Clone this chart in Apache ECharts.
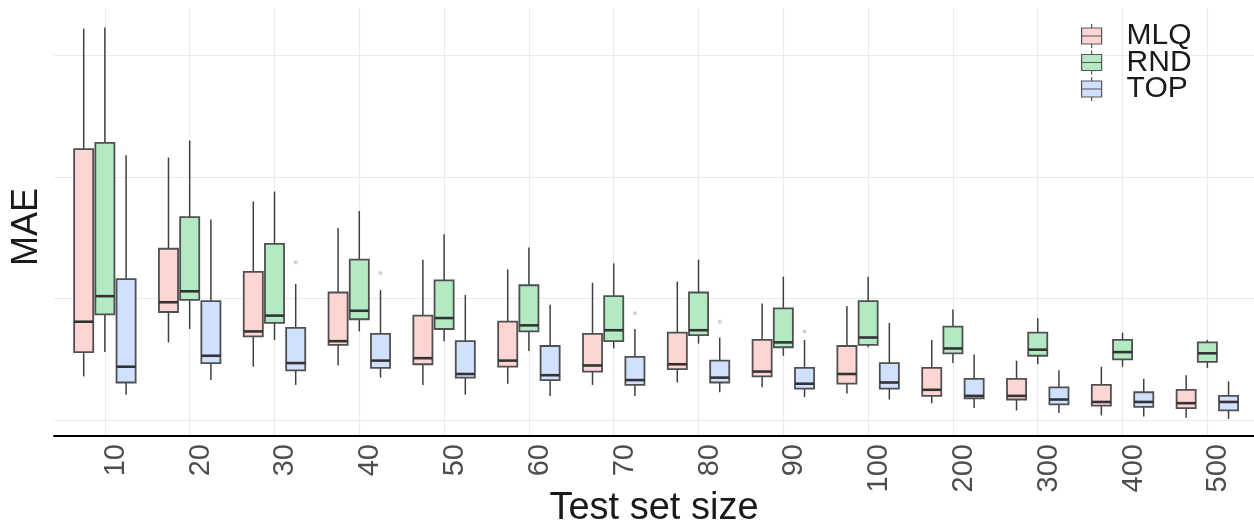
<!DOCTYPE html>
<html>
<head>
<meta charset="utf-8">
<script src="https://cdn.jsdelivr.net/npm/echarts@6/dist/echarts.min.js"></script>
<style>
html,body{margin:0;padding:0;background:#ffffff;}
#chart{width:1254px;height:527px;}
</style>
</head>
<body>
<div id="chart"></div>
<script>
// ---- data (each box: [lower whisker, Q1, median, Q3, upper whisker]) ----
const categories = ['10','20','30','40','50','60','70','80','90','100','200','300','400','500'];
const seriesNames = ['MLQ','RND','TOP'];

const mlq = [
  [0.36,0.56,0.81,2.23,3.22],
  [0.64,0.89,0.97,1.41,2.16],
  [0.44,0.69,0.73,1.22,1.80],
  [0.45,0.62,0.65,1.05,1.58],
  [0.29,0.46,0.51,0.86,1.32],
  [0.30,0.44,0.49,0.81,1.24],
  [0.29,0.40,0.45,0.71,1.13],
  [0.31,0.42,0.46,0.72,1.14],
  [0.27,0.36,0.40,0.66,0.96],
  [0.22,0.30,0.38,0.61,0.94],
  [0.14,0.20,0.25,0.43,0.66],
  [0.08,0.17,0.20,0.34,0.49],
  [0.04,0.12,0.15,0.29,0.44],
  [0.02,0.10,0.14,0.25,0.37]
];
const rnd = [
  [0.56,0.87,1.02,2.28,3.23],
  [0.75,0.99,1.06,1.67,2.30],
  [0.66,0.80,0.86,1.45,1.88],
  [0.73,0.83,0.90,1.32,1.72],
  [0.65,0.75,0.84,1.15,1.53],
  [0.57,0.73,0.78,1.11,1.42],
  [0.59,0.65,0.74,1.02,1.29],
  [0.63,0.70,0.74,1.05,1.32],
  [0.53,0.60,0.64,0.92,1.18],
  [0.60,0.62,0.68,0.98,1.18],
  [0.47,0.55,0.59,0.77,0.91],
  [0.46,0.53,0.58,0.72,0.84],
  [0.44,0.50,0.56,0.66,0.72],
  [0.43,0.48,0.55,0.64,0.66]
];
const top3 = [
  [0.21,0.31,0.44,1.16,2.18],
  [0.33,0.47,0.53,0.98,1.65],
  [0.29,0.41,0.47,0.76,1.12],
  [0.35,0.43,0.49,0.71,1.07],
  [0.21,0.35,0.38,0.65,1.03],
  [0.20,0.33,0.37,0.61,0.95],
  [0.20,0.29,0.33,0.52,0.75],
  [0.23,0.31,0.35,0.49,0.68],
  [0.19,0.26,0.30,0.43,0.66],
  [0.17,0.26,0.31,0.47,0.80],
  [0.10,0.18,0.20,0.34,0.54],
  [0.06,0.13,0.17,0.27,0.41],
  [0.03,0.11,0.15,0.23,0.34],
  [0.01,0.08,0.15,0.20,0.32]
];
// outliers of TOP: [category index, value]
const topOutliers = [[2,1.30],[3,1.21],[6,0.88],[7,0.81],[8,0.73]];

// ---- styling ----
const FILLS = ['#fdd6d3','#b3eac3','#d0e1ff'];
const OFFSETS = [-0.25, 0, 0.25];
const BOX_W = 0.225;
const FONT = "'Liberation Sans', Arial, Helvetica, sans-serif";
const LEGEND_ICON = 'path://M10,0 L10,4 M0,4 L20,4 L20,20 L0,20 Z M0,12 L20,12 M10,20 L10,24';

function makeRender(fill) {
  return function (params, api) {
    const x = api.value(0);
    const lo = api.coord([x, api.value(1)]);
    const q1 = api.coord([x, api.value(2)]);
    const md = api.coord([x, api.value(3)]);
    const q3 = api.coord([x, api.value(4)]);
    const hi = api.coord([x, api.value(5)]);
    const w = api.size([BOX_W, 0])[0];
    const cx = q1[0];
    return {
      type: 'group',
      children: [
        { type: 'line', shape: { x1: cx, y1: hi[1], x2: cx, y2: q3[1] }, style: { stroke: '#404040', lineWidth: 1.5 } },
        { type: 'line', shape: { x1: cx, y1: q1[1], x2: cx, y2: lo[1] }, style: { stroke: '#404040', lineWidth: 1.5 } },
        { type: 'rect', shape: { x: cx - w / 2, y: q3[1], width: w, height: q1[1] - q3[1] },
          style: { fill: fill, stroke: '#505050', lineWidth: 1.8 } },
        { type: 'line', shape: { x1: cx - w / 2, y1: md[1], x2: cx + w / 2, y2: md[1] }, style: { stroke: '#333333', lineWidth: 2.6 } }
      ]
    };
  };
}

const allData = [mlq, rnd, top3];
const series = seriesNames.map(function (name, k) {
  return {
    name: name,
    type: 'custom',
    renderItem: makeRender(FILLS[k]),
    itemStyle: { color: FILLS[k] },
    encode: { x: 0, y: [1, 2, 3, 4, 5] },
    data: allData[k].map(function (s, i) { return [i + OFFSETS[k]].concat(s); }),
    silent: true,
    z: 3
  };
});
series.push({
  name: 'TOP outliers',
  type: 'scatter',
  symbol: 'circle',
  symbolSize: 4,
  itemStyle: { color: '#c4c4c4' },
  data: topOutliers.map(function (p) { return [p[0] + OFFSETS[2], p[1]]; }),
  silent: true,
  z: 2
});

const chart = echarts.init(document.getElementById('chart'), null, { renderer: 'canvas' });
chart.setOption({
  animation: false,
  backgroundColor: '#ffffff',
  textStyle: { fontFamily: FONT },
  grid: { left: 54, right: 0, top: 8, bottom: 91, containLabel: false, outerBoundsMode: 'none' },
  legend: {
    left: 1081, top: 21, orient: 'vertical', padding: 0,
    itemWidth: 20, itemHeight: 24, itemGap: -3.5,
    textStyle: { fontSize: 30, color: '#1a1a1a', fontFamily: FONT, lineHeight: 26, padding: [0, 0, 0, 20] },
    data: seriesNames.map(function (n, k) {
      return { name: n, icon: LEGEND_ICON, itemStyle: { color: FILLS[k], borderColor: '#555555', borderWidth: 1.2 } };
    })
  },
  xAxis: {
    type: 'value',
    min: -0.6, max: 13.55,
    splitNumber: 14, minInterval: 1, maxInterval: 1,
    name: 'Test set size', nameLocation: 'middle', nameGap: 54, nameMoveOverlap: false,
    nameTextStyle: { fontSize: 38, color: '#1a1a1a', fontFamily: FONT },
    axisLine: { show: true, onZero: false, lineStyle: { color: '#000000', width: 2 } },
    axisTick: { show: false },
    axisLabel: {
      rotate: 90, margin: 8, fontSize: 29, color: '#4d4d4d', fontFamily: FONT,
      verticalAlign: 'top', lineHeight: 22,
      showMinLabel: false, showMaxLabel: false,
      formatter: function (v) { return Number.isInteger(v) && categories[v] !== undefined ? categories[v] : ''; }
    },
    splitLine: { show: true, showMinLine: false, showMaxLine: false, lineStyle: { color: '#ebebeb', width: 1.1 } }
  },
  yAxis: {
    type: 'value',
    min: -0.13, max: 3.39,
    splitNumber: 4, minInterval: 1, maxInterval: 1,
    name: 'MAE', nameLocation: 'middle', nameGap: 9, nameRotate: 90, nameMoveOverlap: false,
    nameTextStyle: { fontSize: 36, color: '#1a1a1a', fontFamily: FONT, padding: [0, 10, 0, 0] },
    axisLine: { show: false, onZero: false },
    axisTick: { show: false },
    axisLabel: { show: false },
    splitLine: { show: true, showMinLine: false, showMaxLine: false, lineStyle: { color: '#ebebeb', width: 1.1 } }
  },
  series: series
});
</script>
</body>
</html>
